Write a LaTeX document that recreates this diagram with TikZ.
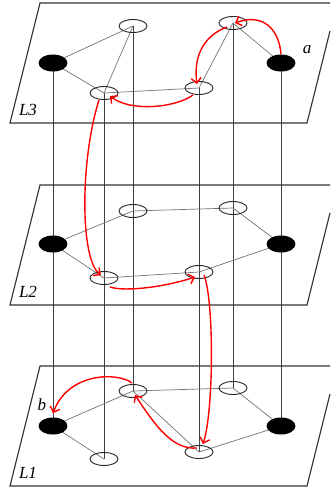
\documentclass[tikz,border=0pt]{standalone}
\usepackage{fontspec}
\setmainfont{Liberation Serif}
\usetikzlibrary{shapes.geometric,arrows.meta,backgrounds,calc}
\begin{document}
\begin{tikzpicture}[x=1pt,y=-1pt,
  opennode/.style={ellipse,draw=black!85,line width=0.9pt,minimum width=28pt,minimum height=13pt,inner sep=0pt},
  blacknode/.style={ellipse,fill=black,minimum width=29pt,minimum height=17pt,inner sep=0pt},
  plane/.style={draw=black!80,line width=1.1pt},
  link/.style={draw=black!55,line width=0.7pt},
  pillar/.style={draw=black!75,line width=0.7pt},
  walk/.style={draw=red,line width=1.4pt,-{Straight Barb[length=5pt,width=10pt]}},
  lbl/.style={font=\fontsize{17}{17}\selectfont\itshape,inner sep=0pt}]
\useasboundingbox (0,0) rectangle (330,488);

% planes (right part cut at the picture edge)
\foreach \t in {3,185,366}{
  \draw[plane] (330,\t+28) -- (307,\t+120) -- (10,\t+120) -- (40,\t) -- (330,\t);
}

% nodes L3
\node[blacknode] (A3) at (53,63) {};
\node[opennode]  (B3) at (104,93) {};
\node[opennode]  (C3) at (133,26) {};
\node[opennode]  (D3) at (199,88) {};
\node[opennode]  (E3) at (233,23) {};
\node[blacknode] (F3) at (281,63) {};
% nodes L2
\node[blacknode] (A2) at (53,244) {};
\node[opennode]  (B2) at (104,278) {};
\node[opennode]  (C2) at (133,211) {};
\node[opennode]  (D2) at (199,272) {};
\node[opennode]  (E2) at (233,208) {};
\node[blacknode] (F2) at (281,244) {};
% nodes L1
\node[blacknode] (A1) at (53,426) {};
\node[opennode]  (B1) at (104,459) {};
\node[opennode]  (C1) at (133,391) {};
\node[opennode]  (D1) at (199,452) {};
\node[opennode]  (E1) at (233,388) {};
\node[blacknode] (F1) at (281,426) {};

\begin{pgfonlayer}{background}
  % vertical pillars
  \foreach \n in {A,B,C,D,E,F}{
    \draw[pillar] (\n3.center) -- (\n1.center);
  }
  % L3 links
  \draw[link] (A3.center) -- (C3.center) -- (B3.center) -- (A3.center);
  \draw[link] (B3.center) -- (D3.center) -- (E3.center) -- (F3.center);
  % L2 links
  \draw[link] (A2.center) -- (C2.center) -- (E2.center) -- (F2.center) -- (D2.center) -- (B2.center) -- (A2.center);
  % L1 links
  \draw[link] (B1.center) -- (A1.center) -- (C1.center) -- (E1.center) -- (F1.center) -- (D1.center) -- (C1.center);
\end{pgfonlayer}

% labels
\node[lbl] (la) at (307,50) {a};
\node[lbl] (lb) at (42,405) {b};
\node[lbl] (l3) at (28,110) {L3};
\node[lbl] (l2) at (28,292) {L2};
\node[lbl] (l1) at (28,473) {L1};

% red walk
\draw[walk] (F3.north) .. controls (279,28) and (262,13) .. ($(E3.center)+(2,0)$);
\draw[walk] ($(E3)+(-6,4)$) .. controls (205,35) and (193,55) .. ($(D3)+(-2,-4)$);
\draw[walk] ($(D3)+(-6,7)$) .. controls (175,108) and (130,112) .. ($(B3)+(6,3)$);
\draw[walk] ($(B3)+(-5,7)$) .. controls (80,160) and (80,260) .. ($(B2)+(-3,-3)$);
\draw[walk] ($(B2)+(6,9)$) .. controls (125,292) and (165,287) .. ($(D2)+(-4,5)$);
\draw[walk] ($(D2)+(5,3)$) .. controls (214,300) and (214,410) .. ($(D1)+(4,-8)$);
\draw[walk] ($(D1)+(-2,-4)$) .. controls (172,450) and (155,425) .. ($(C1)+(2,4)$);
\draw[walk] ($(C1)+(-1,-8)$) .. controls (118,372) and (68,372) .. ($(A1.north)+(0,-4)$);
\end{tikzpicture}
\end{document}
